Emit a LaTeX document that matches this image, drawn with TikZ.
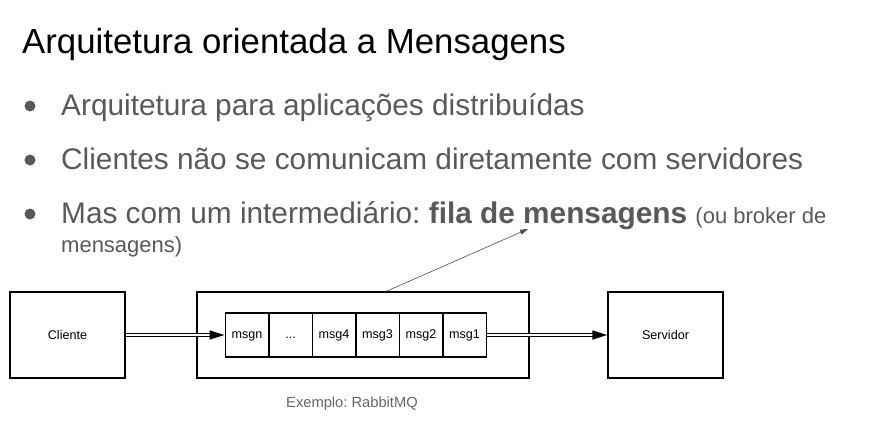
\documentclass[tikz,border=0pt]{standalone}
\usepackage{fontspec}
\setmainfont{Liberation Sans}
\usepackage{xcolor}
\usetikzlibrary{arrows.meta}
\definecolor{slidegray}{HTML}{595959}
\definecolor{notegray}{HTML}{666666}
\frenchspacing

\begin{document}
\begin{tikzpicture}[x=1pt,y=-1pt,
    box/.style={draw,line width=1.5pt,minimum width=115pt,minimum height=86pt,font=\fontsize{12.6}{14}\selectfont},
    cell/.style={draw,line width=1.5pt,minimum width=43.5pt,minimum height=44pt,inner sep=0pt,text height=9pt,text depth=2.5pt,font=\fontsize{12.6}{14}\selectfont},
    bullettext/.style={anchor=base west,inner sep=0pt,text=slidegray,font=\fontsize{29.8}{32}\selectfont},
    pipe/.style={line width=1.6pt,double distance=1.4pt,-{Triangle[length=15pt,width=9pt]}}]
            \useasboundingbox (0,0) rectangle (873,426);
            \node[anchor=base west,inner sep=0pt,font=\fontsize{34.8}{38}\selectfont] (title) at (22,53) {Arquitetura orientada a Mensagens};
            
            \fill[slidegray] (30,106) circle (5.5pt);
            \fill[slidegray] (30,160) circle (5.5pt);
            \fill[slidegray] (30,214) circle (5.5pt);
            \node[bullettext] (item1) at (61,115) {Arquitetura para aplicações distribuídas};
            \node[bullettext] (item2) at (61,169) {Clientes não se comunicam diretamente com servidores};
            \node[bullettext] (item3) at (61,223) {Mas com um intermediário: \textbf{fila de mensagens} {\fontsize{22}{24}\selectfont(ou broker de}};
            \node[bullettext,font=\fontsize{22}{24}\selectfont] (item3b) at (61,252) {mensagens)};
            
            \node[box] (cliente) at (67.5,335) {Cliente};
            \node[box,minimum width=332pt] (broker) at (363,335) {};
            \node[box] (servidor) at (665.5,335) {Servidor};
            
            \node[cell] (msgn) at (247,335) {msgn};
            \node[cell] (dots) at (290.5,335) {...};
            \node[cell] (msg4) at (334,335) {msg4};
            \node[cell] (msg3) at (377.5,335) {msg3};
            \node[cell] (msg2) at (421,335) {msg2};
            \node[cell] (msg1) at (464.5,335) {msg1};
            
            \node[text=notegray,font=\fontsize{14.7}{16}\selectfont] (example) at (352,404) {Exemplo: RabbitMQ};
            
            \coordinate (pointer) at (528,229);
            \draw[pipe] (cliente) -- (msgn);
            \draw[pipe] (msg1) -- (servidor);
            \draw[-{Triangle[length=8pt,width=5pt]},line width=0.6pt,black!70] (387,291) -- (pointer);
        \end{tikzpicture}
\end{document}
